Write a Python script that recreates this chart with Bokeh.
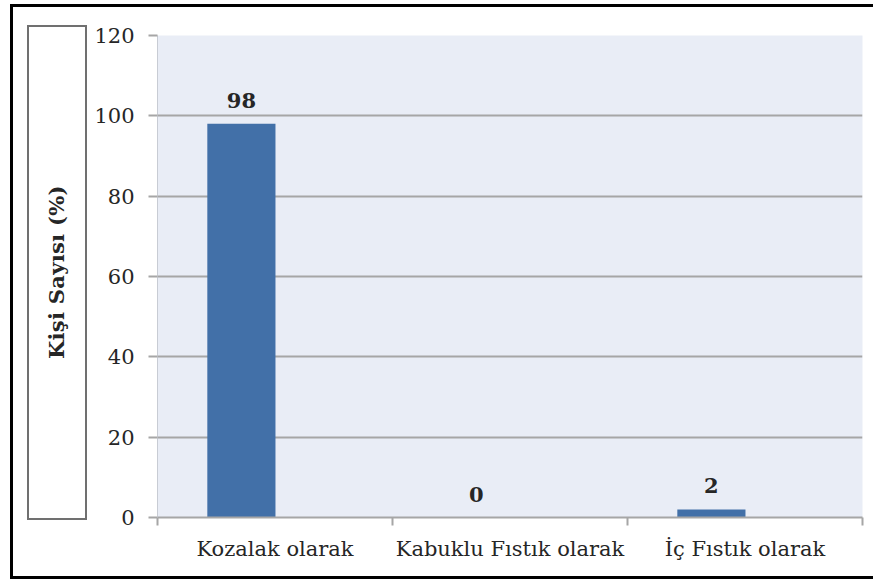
from bokeh.plotting import figure
from bokeh.layouts import row
from bokeh.models import Range1d, FixedTicker, ColumnDataSource, LabelSet, Div
from bokeh.transform import dodge
from bokeh.embed import file_html
from bokeh.resources import INLINE
from bokeh.core.properties import value

categories = ["Kozalak olarak", "Kabuklu Fıstık olarak", "İç Fıstık olarak"]
values = [98, 0, 2]
y_ticks = [0, 20, 40, 60, 80, 100, 120]
y_label = "Kişi Sayısı (%)"

centers = [i + 0.5 for i in range(len(categories))]
bounds = [float(i) for i in range(len(categories) + 1)]
src = ColumnDataSource(dict(x=centers, top=values, label=[str(v) for v in values]))

H = 569
FONT = "DejaVu Serif"
TXT = "#262626"
GRID = "#A6A6A6"

# left panel: boxed y-axis title
lp = Div(text=y_label, width=60, height=495, margin=(18, 4, 56, 14),
         styles={"border": "2px solid #707070", "box-sizing": "border-box",
                 "display": "flex", "align-items": "center", "justify-content": "center",
                 "writing-mode": "vertical-rl", "transform": "rotate(180deg)",
                 "font-family": FONT, "font-weight": "bold", "font-size": "21px",
                 "letter-spacing": "0.3px",
                 "color": TXT, "background": "white", "white-space": "nowrap"})

# main chart
p = figure(width=782, height=H, output_backend="svg", toolbar_location=None,
           x_range=Range1d(0, len(categories)), y_range=Range1d(0, 120),
           min_border_left=66, min_border_right=11, min_border_top=28, min_border_bottom=59)
p.background_fill_color = "#E9EDF6"
p.border_fill_color = "white"
p.outline_line_color = None

p.vbar(x=dodge("x", -0.143), top="top", width=0.29, source=src,
       fill_color="#4270A8", line_color=None)

p.add_layout(LabelSet(x=dodge("x", -0.143), y="top", text="label", source=src,
                      y_offset=16, text_align="center", text_baseline="bottom",
                      text_font=value(FONT), text_font_style="bold",
                      text_font_size="21px", text_color=TXT))

p.xgrid.visible = False
p.ygrid.grid_line_color = GRID
p.ygrid.grid_line_width = 2
p.ygrid.ticker = FixedTicker(ticks=y_ticks)

ya = p.yaxis[0]
ya.ticker = FixedTicker(ticks=y_ticks)
ya.axis_line_color = "#C8CCD4"
ya.major_tick_line_color = GRID
ya.major_tick_line_width = 2
ya.major_tick_out = 9
ya.major_tick_in = 0
ya.minor_tick_line_color = None
ya.major_label_standoff = 14
ya.major_label_text_font = FONT
ya.major_label_text_font_size = "21px"
ya.major_label_text_color = TXT

xa = p.xaxis[0]
xa.ticker = FixedTicker(ticks=centers, minor_ticks=bounds)
xa.major_label_overrides = {c: lab for c, lab in zip(centers, categories)}
xa.axis_line_color = GRID
xa.axis_line_width = 2
xa.major_tick_line_color = None
xa.minor_tick_line_color = GRID
xa.minor_tick_line_width = 2
xa.minor_tick_out = 8
xa.minor_tick_in = 0
xa.major_label_standoff = 11
xa.major_label_text_font = FONT
xa.major_label_text_font_size = "21px"
xa.major_label_text_color = TXT

layout = row(lp, p, margin=(4, 0, 0, 10),
             styles={"border": "3px solid black", "border-right": "none"})

open("out.html", "w").write(file_html(layout, INLINE))
